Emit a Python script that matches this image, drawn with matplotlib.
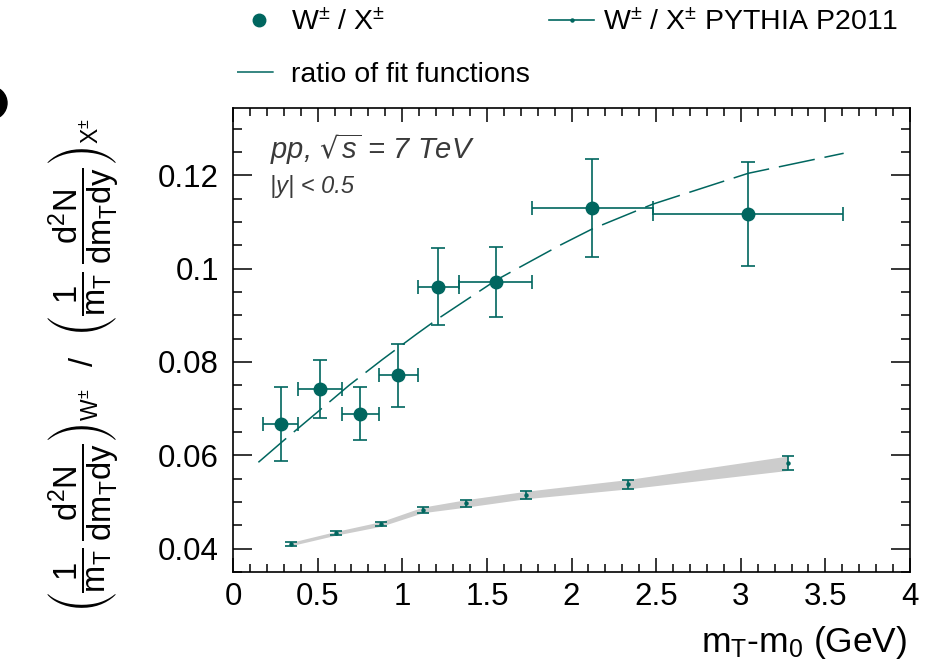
import matplotlib
matplotlib.use("Agg")
import matplotlib.pyplot as plt
from matplotlib.lines import Line2D
from matplotlib.patches import Ellipse
from matplotlib.ticker import MultipleLocator
import numpy as np

plt.rcParams['font.family'] = ['Liberation Sans', 'DejaVu Sans']
plt.rcParams['mathtext.default'] = 'regular'

teal = '#00665f'
W, H = 930, 664

# measured W/X ratio, pp 7 TeV
mt = [0.284, 0.514, 0.752, 0.977, 1.213, 1.552, 2.123, 3.043]
ratio = [0.0668, 0.0742, 0.0689, 0.0772, 0.0961, 0.0972, 0.1129, 0.1116]
ratio_up = [0.0747, 0.0805, 0.0747, 0.0838, 0.1045, 0.1047, 0.1235, 0.1228]
ratio_lo = [0.0588, 0.0680, 0.0633, 0.0704, 0.0879, 0.0897, 0.1024, 0.1005]
bin_lo = [0.179, 0.386, 0.642, 0.863, 1.095, 1.337, 1.765, 2.480]
bin_hi = [0.386, 0.642, 0.863, 1.095, 1.337, 1.765, 2.480, 3.604]

# ratio of fit functions
fit_x = [0.150, 0.297, 0.494, 0.686, 0.882, 1.086, 1.213, 1.558, 1.932, 2.123, 2.480, 3.043, 3.608]
fit_y = [0.0585, 0.0631, 0.0691, 0.0750, 0.0805, 0.0860, 0.0893, 0.0976, 0.1050, 0.1085, 0.1138, 0.1204, 0.1247]

# PYTHIA P2011
py_x = [0.343, 0.609, 0.875, 1.121, 1.377, 1.731, 2.332, 3.277]
py_y = [0.0410, 0.0433, 0.0453, 0.0483, 0.0497, 0.0515, 0.0538, 0.0583]
py_err = [0.00036, 0.0004, 0.0005, 0.0006, 0.0008, 0.0008, 0.0010, 0.00154]

x_ticks = [0, 0.5, 1, 1.5, 2, 2.5, 3, 3.5, 4]
x_ticklabels = ['0', '0.5', '1', '1.5', '2', '2.5', '3', '3.5', '4']
y_ticks = [0.04, 0.06, 0.08, 0.10, 0.12]
y_ticklabels = ['0.04', '0.06', '0.08', '0.1', '0.12']

fig = plt.figure(figsize=(W / 100, H / 100), dpi=100)
ax = fig.add_axes([233 / W, 1 - 572 / H, (910 - 233) / W, (572 - 108) / H])

mt_a = np.array(mt)
ratio_a = np.array(ratio)
yerr = [ratio_a - np.array(ratio_lo), np.array(ratio_up) - ratio_a]
xerr = [mt_a - np.array(bin_lo), np.array(bin_hi) - mt_a]

py_y_a = np.array(py_y)
py_err_a = np.array(py_err)
ax.fill_between(py_x, py_y_a - py_err_a, py_y_a + py_err_a, color='#cccccc', lw=0, zorder=1)
ax.errorbar(py_x, py_y, yerr=py_err, fmt='o', ms=2.2, color=teal, ecolor=teal,
            elinewidth=1.2, capsize=4.5, capthick=1.2, zorder=3)

ax.plot(fit_x, fit_y, color=teal, lw=1.1, dashes=(24, 6.5), zorder=2)

ax.errorbar(mt, ratio, xerr=xerr, yerr=yerr, fmt='o', ms=9, color=teal, ecolor=teal,
            elinewidth=1.2, capsize=4.8, capthick=1.2, zorder=4)

ax.set_xlim(0, 4)
ax.set_ylim(0.035, 0.1344)
ax.set_xticks(x_ticks)
ax.set_xticklabels(x_ticklabels)
ax.set_yticks(y_ticks)
ax.set_yticklabels(y_ticklabels)
ax.xaxis.set_minor_locator(MultipleLocator(0.1))
ax.yaxis.set_minor_locator(MultipleLocator(0.005))
ax.tick_params(which='both', direction='in', top=True, right=True, width=1.1,
               labelsize=22.5)
ax.tick_params(axis='x', which='major', length=10, pad=7)
ax.tick_params(axis='x', which='minor', length=5.5)
ax.tick_params(axis='y', which='major', length=13.5, pad=10)
ax.tick_params(axis='y', which='minor', length=6.5)
for s in ax.spines.values():
    s.set_linewidth(1.2)

ax.text((270 - 233) / 677, 1 - (149 - 108) / 464, r'pp, $\sqrt{s}$ = 7 TeV', transform=ax.transAxes,
        fontsize=21, style='italic', color='#3a3a3a', va='center', ha='left')
ax.text((270 - 233) / 677, 1 - (186 - 108) / 464, '|y| < 0.5', transform=ax.transAxes,
        fontsize=17, style='italic', color='#3a3a3a', va='center', ha='left')

fig.text(907 / W, 1 - 652 / H, r'm$_{T}$-m$_{0}$ (GeV)', fontsize=25.5, ha='right', va='baseline')

ylab = (r'$\left(\dfrac{1}{m_{T}}\,\dfrac{d^{2}N}{dm_{T}dy}\right)_{W^{\pm}}\ \ /\ \ '
        r'\left(\dfrac{1}{m_{T}}\,\dfrac{d^{2}N}{dm_{T}dy}\right)_{X^{\pm}}$')
fig.text(84 / W, 1 - 366 / H, ylab, rotation=90, fontsize=23.5, ha='center', va='center')

# partial black disc cut by the left edge
fig.patches.append(Ellipse((-9.5 / W, 1 - 103 / H), 33 / W, 33 / H, color='black',
                           transform=fig.transFigure, figure=fig))

h_data = Line2D([], [], ls='none', marker='o', ms=9, color=teal)
h_fit = Line2D([], [], color=teal, lw=1.1, dashes=(24, 6.5))
h_py = Line2D([], [], color=teal, lw=1.2, marker='o', ms=2.2)
fig.legend([h_data, h_fit, h_py],
           [r'W$^{\pm}$ / X$^{\pm}$', 'ratio of fit functions', r'W$^{\pm}$ / X$^{\pm}$ PYTHIA P2011'],
           ncol=2, loc='upper left', bbox_to_anchor=(237 / W, 1 - 9 / H), frameon=False,
           fontsize=20.5, borderpad=0, borderaxespad=0, handlelength=1.58,
           handletextpad=0.3, columnspacing=0.7, labelspacing=0.92)

fig.savefig('out.png', dpi=100)
